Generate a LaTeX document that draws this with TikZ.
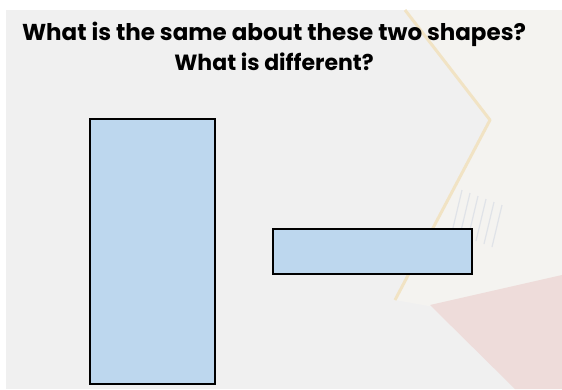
\documentclass[tikz,border=0pt]{standalone}
\usepackage{fontspec}
\setmainfont{Poppins}
\definecolor{bggray}{HTML}{F0F0F0}
\definecolor{shapeblue}{HTML}{BDD7EE}
\definecolor{starfill}{HTML}{F4F3F0}
\definecolor{staredge}{HTML}{F1E3C4}
\definecolor{redfade}{HTML}{EEDCDA}
\definecolor{paperline}{HTML}{E0E3E8}
\begin{document}
\begin{tikzpicture}[x=1pt,y=-1pt,
  shapebox/.style={draw=black,line width=2.2pt,fill=shapeblue},
  titletext/.style={font=\bfseries\fontsize{23}{26}\selectfont,anchor=base,inner sep=0pt}]
\useasboundingbox (0,0) rectangle (562,389);
\fill[white] (0,0) rectangle (562,389);
\fill[bggray] (6,10) rectangle (562,389);
% faded background picture
\fill[starfill] (405,10) -- (562,10) -- (562,330) -- (395,300) -- (490,120) -- cycle;
\draw[staredge,line width=3pt,line join=round] (405,10) -- (490,120) -- (395,300);
\fill[redfade] (430,305) -- (562,275) -- (562,389) -- (515,389) -- cycle;
\foreach \i in {0,...,5}
  \draw[paperline,line width=1.2pt] (462+\i*8,190+\i*3) -- (452+\i*8,232+\i*3);
% title
\node[titletext] (t1) at (274,40) {What is the same about these two shapes?};
\node[titletext,font=\bfseries\fontsize{22}{26}\selectfont] (t2) at (274,70) {What is different?};
% shapes
\node[shapebox,minimum width=125pt,minimum height=265pt,inner sep=0pt] (tall) at (152.5,251.5) {};
\node[shapebox,minimum width=199pt,minimum height=45pt,inner sep=0pt] (wide) at (372.5,251.5) {};
\end{tikzpicture}
\end{document}
